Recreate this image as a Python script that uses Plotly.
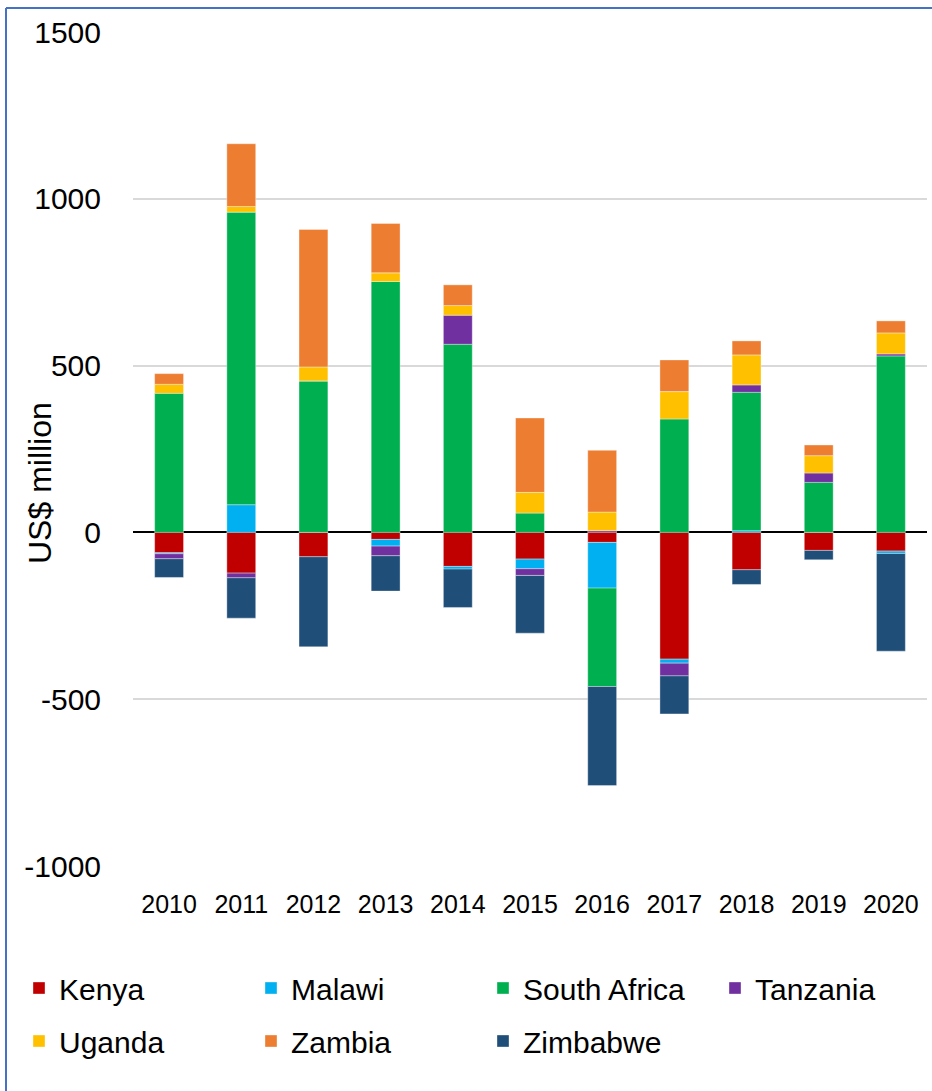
import plotly.graph_objects as go

years = ["2010", "2011", "2012", "2013", "2014", "2015", "2016", "2017", "2018", "2019", "2020"]

kenya = [-61, -122, -73, -21, -102, -80, -30, -380, -112, -54, -56]
malawi = [-3, 83, 0, -20, -8, -29, -137, -12, 5, 0, -7]
south_africa = [417, 877, 454, 752, 564, 58, -295, 340, 415, 150, 529]
tanzania = [-15, -14, 0, -29, 87, -20, 5, -38, 22, 28, 6]
uganda = [27, 17, 42, 26, 29, 62, 56, 82, 90, 52, 63]
zambia = [32, 188, 412, 148, 62, 223, 185, 95, 42, 32, 36]
zimbabwe = [-56, -121, -270, -106, -115, -173, -297, -114, -44, -28, -293]

y_tick_vals = [-1000, -500, 0, 500, 1000, 1500]
y_tick_text = ["-1000", "-500", "0", "500", "1000", "1500"]

# (name, values, colour, legend row)
series = [
    ("Kenya", kenya, "#C00000", "legend"),
    ("Malawi", malawi, "#00B0F0", "legend"),
    ("South Africa", south_africa, "#00B050", "legend"),
    ("Tanzania", tanzania, "#7030A0", "legend"),
    ("Uganda", uganda, "#FFC000", "legend2"),
    ("Zambia", zambia, "#ED7D31", "legend2"),
    ("Zimbabwe", zimbabwe, "#1F4E79", "legend2"),
]

FONT = "Arial, Liberation Sans, sans-serif"

fig = go.Figure()
for name, vals, col, leg in series:
    fig.add_trace(go.Bar(
        x=years, y=vals, name=name, legend=leg,
        marker=dict(color=col, line=dict(color="rgba(255,255,255,0.6)", width=0.6)),
    ))

W, H = 932, 1091
L, R, T, B = 133, 5, 32, 225
pw = W - L - R
ph = H - T - B

def px_x(x):
    return (x - L) / pw

def px_y(y):
    return (H - B - y) / ph

legend_common = dict(
    orientation="h",
    x=px_x(19), xanchor="left",
    yanchor="top",
    entrywidth=187, entrywidthmode="pixels",
    font=dict(family=FONT, size=30, color="black"),
    traceorder="normal",
    itemclick=False, itemdoubleclick=False,
    bgcolor="rgba(0,0,0,0)",
)

fig.update_layout(
    width=W, height=H,
    margin=dict(l=L, r=R, t=T, b=B, pad=0, autoexpand=False),
    barmode="relative",
    bargap=0.6,
    plot_bgcolor="white",
    paper_bgcolor="white",
    font=dict(family=FONT, color="black"),
    showlegend=True,
    legend=dict(legend_common, y=px_y(962)),
    legend2=dict(legend_common, y=px_y(1015)),
    xaxis=dict(
        type="category",
        showgrid=False,
        showline=False,
        ticks="",
        tickfont=dict(family=FONT, size=25, color="black"),
        ticklabelstandoff=21,
    ),
    yaxis=dict(
        range=[-1000, 1500],
        tickvals=y_tick_vals,
        ticktext=y_tick_text,
        showgrid=True,
        gridcolor="#D9D9D9",
        gridwidth=1.5,
        zeroline=True,
        zerolinecolor="black",
        zerolinewidth=2,
        showline=False,
        ticks="",
        tickfont=dict(family=FONT, size=30, color="black"),
        ticklabelstandoff=31,
    ),
    annotations=[
        dict(
            text="US$ million", textangle=-90,
            x=px_x(40), y=px_y(483), xref="paper", yref="paper",
            xanchor="center", yanchor="middle", showarrow=False,
            font=dict(family=FONT, size=32, color="black"),
        )
    ],
    shapes=[
        dict(type="line", xref="paper", yref="paper",
             x0=px_x(6), x1=px_x(6), y0=px_y(8), y1=px_y(H + 5),
             line=dict(color="#4472C4", width=2)),
        dict(type="line", xref="paper", yref="paper",
             x0=px_x(6), x1=px_x(W + 5), y0=px_y(8), y1=px_y(8),
             line=dict(color="#4472C4", width=2)),
    ],
)

fig.write_html(
    "out.html",
    config={"displayModeBar": False},
    post_script="document.body.style.margin='0';document.body.style.overflow='hidden';",
)
